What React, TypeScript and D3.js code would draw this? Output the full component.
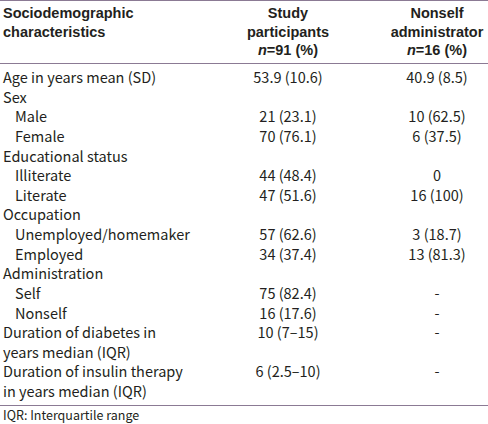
import React from "react";
import * as d3 from "d3";

const rowLabels = [
  "Age in years mean (SD)",
  "Sex",
  "Male",
  "Female",
  "Educational status",
  "Illiterate",
  "Literate",
  "Occupation",
  "Unemployed/homemaker",
  "Employed",
  "Administration",
  "Self",
  "Nonself",
  "Duration of diabetes in",
  "years median (IQR)",
  "Duration of insulin therapy",
  "in years median (IQR)",
];
const rowIndented = [false, false, true, true, false, true, true, false, true, true, false, true, true, false, false, false, false];
const studyValues = ["53.9 (10.6)", "", "21 (23.1)", "70 (76.1)", "", "44 (48.4)", "47 (51.6)", "", "57 (62.6)", "34 (37.4)", "", "75 (82.4)", "16 (17.6)", "10 (7\u201315)", "", "6 (2.5\u201310)", ""];
const nonselfValues = ["40.9 (8.5)", "", "10 (62.5)", "6 (37.5)", "", "0", "16 (100)", "", "3 (18.7)", "13 (81.3)", "", "-", "-", "-", "", "-", ""];
const headerCol1 = ["Sociodemographic", "characteristics"];
const headerCol2 = ["Study", "participants"];
const headerCol3 = ["Nonself", "administrator"];
const headerN = ["91", "16"];
const footnote = "IQR: Interquartile range";

const W = 488;
const H = 424;
const LINE = "#8b7a94";
const TEXT = "#231f20";
const BODY_FONT = "'Noto Sans CJK JP', 'Noto Sans', sans-serif";
const HEAD_FONT = "'Liberation Sans', Arial, sans-serif";

export default function App() {
  const y = d3.scaleLinear().domain([0, rowLabels.length - 1]).range([83, 397]);
  const x = d3.scaleOrdinal<string, number>().domain(["label", "study", "nonself"]).range([3, 288, 437]);
  const headY = d3.scaleLinear().domain([0, 2]).range([18, 55]);

  return (
    <div style={{ position: "fixed", left: 0, top: 0 }}>
      <svg width={W} height={H} style={{ display: "block", background: "#fff" }}>
        <line x1={0} x2={W} y1={0.5} y2={0.5} stroke={LINE} strokeWidth={1} />
        <line x1={0} x2={W} y1={63.5} y2={63.5} stroke={LINE} strokeWidth={1} />
        <line x1={0} x2={W} y1={405.5} y2={405.5} stroke={LINE} strokeWidth={1} />
        <g fontFamily={HEAD_FONT} fontWeight="bold" fontSize={14.5} fill={TEXT}>
          {headerCol1.map((t, i) => (
            <text key={"h1" + i} x={x("label")} y={headY(i)}>{t}</text>
          ))}
          {headerCol2.map((t, i) => (
            <text key={"h2" + i} x={x("study")} y={headY(i)} textAnchor="middle">{t}</text>
          ))}
          {headerCol3.map((t, i) => (
            <text key={"h3" + i} x={x("nonself")} y={headY(i)} textAnchor="middle">{t}</text>
          ))}
          <text x={x("study")} y={headY(2)} textAnchor="middle">
            <tspan fontStyle="italic">n</tspan>={headerN[0]} (%)
          </text>
          <text x={x("nonself")} y={headY(2)} textAnchor="middle">
            <tspan fontStyle="italic">n</tspan>={headerN[1]} (%)
          </text>
        </g>
        <g fontFamily={BODY_FONT} fontSize={14.5} fill={TEXT}>
          {rowLabels.map((t, i) => (
            <text key={"l" + i} x={x("label") + (rowIndented[i] ? 12 : 0)} y={y(i)}>{t}</text>
          ))}
          {studyValues.map((t, i) => (
            <text key={"s" + i} x={x("study")} y={y(i)} textAnchor="middle">{t}</text>
          ))}
          {nonselfValues.map((t, i) => (
            <text key={"n" + i} x={x("nonself")} y={y(i)} textAnchor="middle">{t}</text>
          ))}
        </g>
        <text x={3} y={420} fontFamily={BODY_FONT} fontSize={12.5} fill={TEXT}>{footnote}</text>
      </svg>
    </div>
  );
}
